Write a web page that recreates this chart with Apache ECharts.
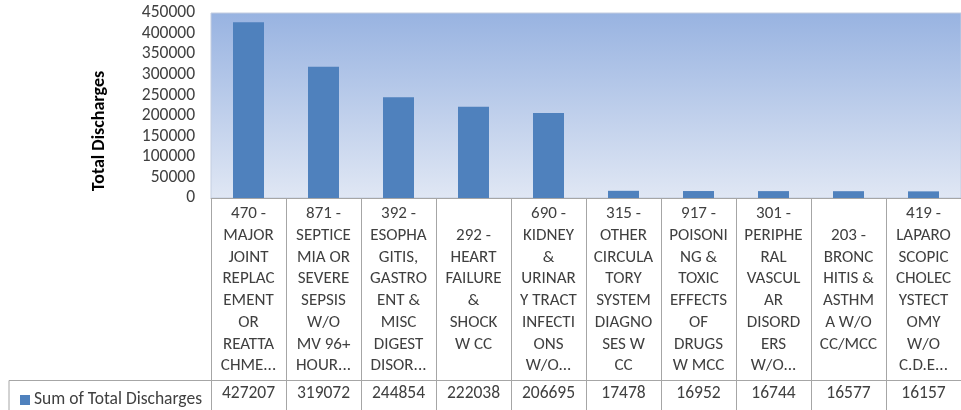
<!DOCTYPE html>
<html>
<head>
<meta charset="utf-8">
<script src="https://cdn.jsdelivr.net/npm/echarts@6/dist/echarts.min.js"></script>
<style>
  html, body { margin: 0; padding: 0; background: #fff; }
  #chart { width: 961px; height: 410px; }
</style>
</head>
<body>
<div id="chart"></div>
<script>
// categories as they wrap inside the data table cells
const categories = [
    '470 -\nMAJOR\nJOINT\nREPLAC\nEMENT\nOR\nREATTA\nCHME...',
    '871 -\nSEPTICE\nMIA OR\nSEVERE\nSEPSIS\nW/O\nMV 96+\nHOUR...',
    '392 -\nESOPHA\nGITIS,\nGASTRO\nENT &\nMISC\nDIGEST\nDISOR...',
    '292 -\nHEART\nFAILURE\n&\nSHOCK\nW CC',
    '690 -\nKIDNEY\n&\nURINAR\nY TRACT\nINFECTI\nONS\nW/O...',
    '315 -\nOTHER\nCIRCULA\nTORY\nSYSTEM\nDIAGNO\nSES W\nCC',
    '917 -\nPOISONI\nNG &\nTOXIC\nEFFECTS\nOF\nDRUGS\nW MCC',
    '301 -\nPERIPHE\nRAL\nVASCUL\nAR\nDISORD\nERS\nW/O...',
    '203 -\nBRONC\nHITIS &\nASTHM\nA W/O\nCC/MCC',
    '419 -\nLAPARO\nSCOPIC\nCHOLEC\nYSTECT\nOMY\nW/O\nC.D.E...'
];
const totalDischarges = [427207, 319072, 244854, 222038, 206695, 17478, 16952, 16744, 16577, 16157];
const seriesName = 'Sum of Total Discharges';
const yTicks = { min: 0, max: 450000, interval: 50000 };

const font = "Carlito, Lato, sans-serif";
const textColor = '#404040';
const lineColor = '#a6a6a6';

const myChart = echarts.init(document.getElementById('chart'));

const option = {
    animation: false,
    textStyle: { fontFamily: font },
    grid: {
        left: 211,
        right: -10,
        top: 13,
        bottom: 212,
        show: true,
        borderWidth: 1,
        borderColor: '#c3cde0',
        backgroundColor: new echarts.graphic.LinearGradient(0, 0, 0, 1, [
            { offset: 0, color: '#98b3e1' },
            { offset: 1, color: '#e0e7f4' }
        ])
    },
    legend: {
        left: 15,
        top: 386,
        itemWidth: 10,
        itemHeight: 10,
        itemGap: 4,
        icon: 'rect',
        textStyle: { fontFamily: font, fontSize: 17.5, color: textColor, padding: [0, 0, 0, -1] },
        data: [seriesName]
    },
    xAxis: [
        {
            type: 'category',
            data: categories,
            axisLine: { show: true, lineStyle: { color: lineColor } },
            axisTick: { show: true, interval: 0, length: 212, lineStyle: { color: lineColor } },
            axisLabel: {
                interval: 0,
                margin: 92,
                verticalAlign: 'middle',
                align: 'center',
                fontSize: 17,
                lineHeight: 21.7,
                color: textColor,
                fontFamily: font
            }
        },
        {
            type: 'category',
            position: 'bottom',
            offset: 182,
            data: totalDischarges.map(String),
            axisLine: { show: true, lineStyle: { color: lineColor } },
            axisTick: { show: false },
            axisLabel: {
                interval: 0,
                margin: 14,
                verticalAlign: 'middle',
                fontSize: 17.5,
                color: textColor,
                fontFamily: font
            }
        }
    ],
    yAxis: {
        type: 'value',
        min: yTicks.min,
        max: yTicks.max,
        interval: yTicks.interval,
        splitLine: { show: false },
        axisLine: { show: false },
        axisTick: { show: false },
        axisLabel: {
            margin: 16,
            fontSize: 17.5,
            color: textColor,
            fontFamily: font,
            formatter: function (v) { return String(v); }
        }
    },
    graphic: [
        {
            type: 'text',
            x: 99,
            y: 131,
            rotation: Math.PI / 2,
            style: {
                text: 'Total Discharges',
                fontFamily: font,
                fontSize: 18,
                fontWeight: 'bold',
                fill: '#000',
                align: 'center',
                verticalAlign: 'middle'
            }
        },
        {
            type: 'polyline',
            shape: { points: [[9, 410], [9, 380.5], [211, 380.5]] },
            style: { stroke: lineColor, lineWidth: 1, fill: null }
        }
    ],
    series: [
        {
            name: seriesName,
            type: 'bar',
            xAxisIndex: 0,
            data: totalDischarges,
            barWidth: 31,
            itemStyle: { color: '#4f81bd' }
        }
    ]
};

myChart.setOption(option);

window.addEventListener('resize', function () {
    myChart.resize();
});
</script>
</body>
</html>
